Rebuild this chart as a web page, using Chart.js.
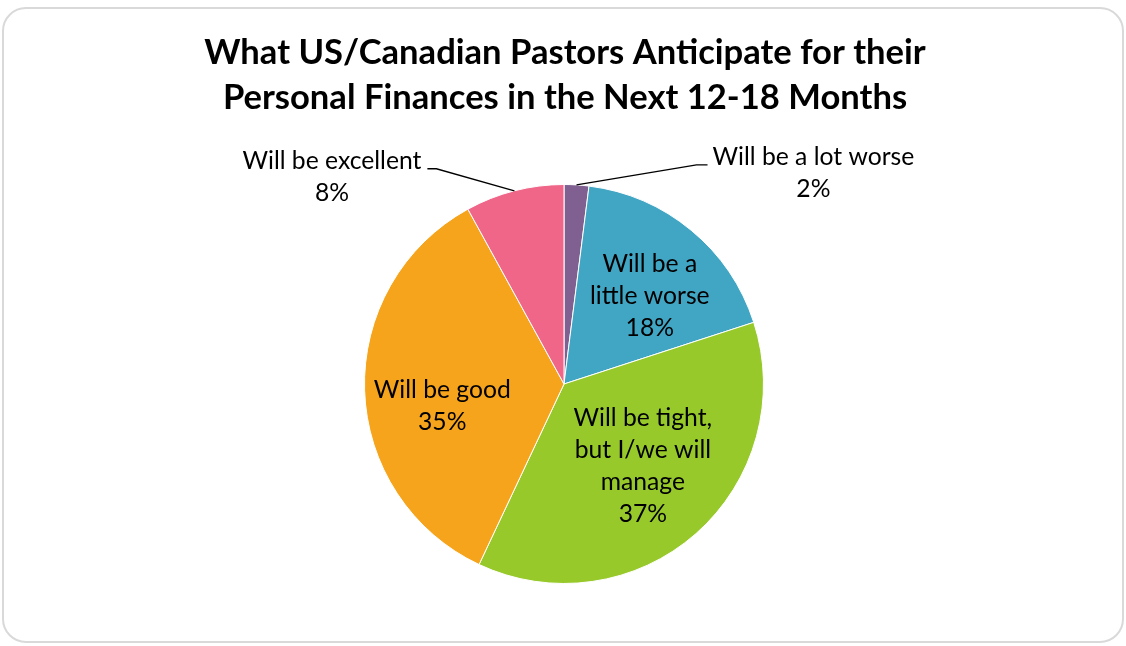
<!DOCTYPE html>
<html>
<head>
<meta charset="utf-8">
<script src="https://cdn.jsdelivr.net/npm/chart.js@4/dist/chart.umd.min.js"></script>
<style>
html,body{margin:0;padding:0;background:#fff;}
#wrap{position:relative;width:1126px;height:646px;overflow:hidden;}
#frame{position:absolute;left:2px;top:7px;width:1118px;height:632px;border:2px solid #d9d9d9;border-radius:24px;}
canvas{position:absolute;left:0;top:0;}
</style>
</head>
<body>
<div id="wrap"><div id="frame"></div><canvas id="c" width="1126" height="646"></canvas></div>
<script>
const categories = ["Will be a lot worse", "Will be a little worse", "Will be tight, but I/we will manage", "Will be good", "Will be excellent"];
const values = [2, 18, 37, 35, 8];
const labelLines = [["Will be a lot worse"], ["Will be a", "little worse"], ["Will be tight,", "but I/we will", "manage"], ["Will be good"], ["Will be excellent"]];
const titleLines = ["What US/Canadian Pastors Anticipate for their", "Personal Finances in the Next 12-18 Months"];
const colors = ["#7F6090", "#41A5C4", "#98C92B", "#F5A41B", "#F06689"];

const FONT = "Lato, 'Liberation Sans', sans-serif";
// label placement styles per slice (angle offsets in degrees)
const labelStyle = [
  {type:"out", dx:120, dy:-20, h:11, side:1},
  {type:"in", frac:0.617, rot:4.6},
  {type:"in", frac:0.57, rot:-2.5},
  {type:"in", frac:0.62, rot:-8.4},
  {type:"out", dx:-78, dy:-22, h:-9, side:-1}
];

const titlePlugin = {
  id: "twoLineTitle",
  afterDraw(chart) {
    const ctx = chart.ctx;
    ctx.save();
    ctx.font = "bold 34.6px " + FONT;
    ctx.fillStyle = "#000";
    ctx.textAlign = "center";
    ctx.textBaseline = "middle";
    titleLines.forEach((t, k) => ctx.fillText(t, 565, 53 + k * 45));
    ctx.restore();
  }
};

const labelPlugin = {
  id: "pieLabels",
  afterDatasetsDraw(chart) {
    const ctx = chart.ctx;
    const meta = chart.getDatasetMeta(0);
    ctx.save();
    ctx.font = "24.7px " + FONT;
    ctx.fillStyle = "#000";
    ctx.textAlign = "center";
    ctx.textBaseline = "middle";
    const lh = 31.8;
    meta.data.forEach((arc, i) => {
      const p = arc.getProps(["x","y","startAngle","endAngle","outerRadius"], true);
      const mid = (p.startAngle + p.endAngle) / 2;
      const lines = labelLines[i].concat([values[i] + "%"]);
      const st = labelStyle[i];
      if (st.type === "in") {
        const r = st.frac * p.outerRadius;
        const a = mid + st.rot * Math.PI / 180;
        const cx = p.x + Math.cos(a) * r;
        const cy = p.y + Math.sin(a) * r;
        const y0 = cy - (lines.length - 1) * lh / 2;
        lines.forEach((t, k) => ctx.fillText(t, cx, y0 + k * lh));
      } else {
        const ax = p.x + Math.cos(mid) * p.outerRadius;
        const ay = p.y + Math.sin(mid) * p.outerRadius;
        const ex = ax + st.dx, ey = ay + st.dy;
        const hx = ex + st.h;
        ctx.strokeStyle = "#000";
        ctx.lineWidth = 1.3;
        ctx.beginPath();
        ctx.moveTo(ax, ay); ctx.lineTo(ex, ey); ctx.lineTo(hx, ey);
        ctx.stroke();
        const w = Math.max(...lines.map(t => ctx.measureText(t).width));
        const cx = st.side > 0 ? hx + 5 + w / 2 : hx - 6 - w / 2;
        ctx.fillText(lines[0], cx, ey - 8);
        ctx.fillText(lines[1], cx, ey + 24);
      }
    });
    ctx.restore();
  }
};

new Chart(document.getElementById("c"), {
  type: "pie",
  data: {
    labels: categories,
    datasets: [{
      data: values,
      backgroundColor: colors,
      borderColor: "#ffffff",
      borderWidth: 1
    }]
  },
  options: {
    responsive: false,
    animation: false,
    layout: { padding: { top: 184, bottom: 62, left: 364, right: 362 } },
    plugins: {
      legend: { display: false },
      tooltip: { enabled: false },
      title: { display: false }
    }
  },
  plugins: [labelPlugin, titlePlugin]
});
</script>
</body>
</html>
